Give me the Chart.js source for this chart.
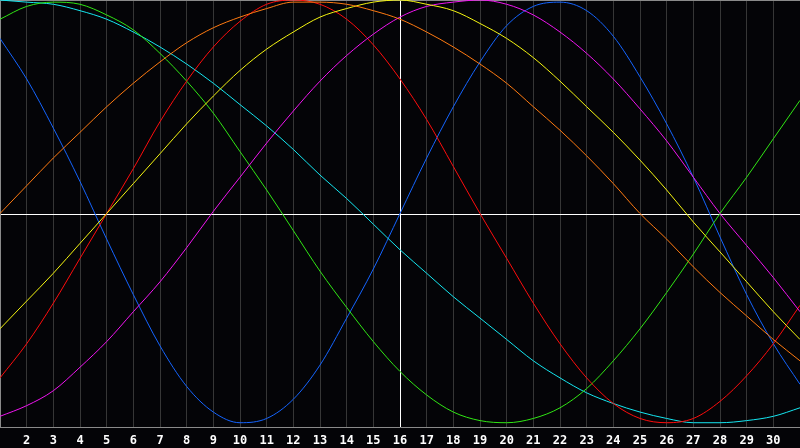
<!DOCTYPE html>
<html>
<head>
<meta charset="utf-8">
<script src="https://cdn.jsdelivr.net/npm/chart.js@4.4.1/dist/chart.umd.min.js"></script>
<style>
  html, body { margin: 0; padding: 0; background: #040407; }
  #wrap { width: 800px; height: 448px; position: relative; }
</style>
</head>
<body>
<div id="wrap"><canvas id="c" width="800" height="448"></canvas></div>
<script>
const categories = [1,2,3,4,5,6,7,8,9,10,11,12,13,14,15,16,17,18,19,20,21,22,23,24,25,26,27,28,29,30,31];

const blueValues    = [0.82,0.63,0.40,0.15,-0.12,-0.38,-0.62,-0.81,-0.93,-0.98,-0.96,-0.87,-0.71,-0.49,-0.26,0.00,0.26,0.50,0.71,0.88,0.97,0.99,0.95,0.83,0.64,0.42,0.17,-0.11,-0.38,-0.61,-0.80];
const greenValues   = [0.91,0.97,0.99,0.98,0.93,0.86,0.75,0.62,0.47,0.29,0.11,-0.08,-0.27,-0.44,-0.60,-0.74,-0.85,-0.93,-0.97,-0.98,-0.96,-0.91,-0.82,-0.69,-0.54,-0.37,-0.19,0.00,0.17,0.35,0.53];
const cyanValues    = [1.00,0.99,0.98,0.95,0.91,0.85,0.78,0.70,0.61,0.51,0.41,0.30,0.18,0.07,-0.05,-0.17,-0.28,-0.39,-0.49,-0.59,-0.69,-0.77,-0.84,-0.89,-0.93,-0.96,-0.98,-0.98,-0.97,-0.95,-0.91];
const redValues     = [-0.77,-0.61,-0.42,-0.21,0.00,0.21,0.43,0.62,0.78,0.90,0.98,1.00,0.98,0.91,0.79,0.63,0.44,0.22,0.00,-0.21,-0.42,-0.61,-0.77,-0.89,-0.96,-0.98,-0.96,-0.88,-0.76,-0.61,-0.43];
const orangeValues  = [0.00,0.13,0.26,0.38,0.50,0.61,0.71,0.80,0.87,0.92,0.96,0.99,0.99,0.98,0.95,0.91,0.85,0.78,0.70,0.61,0.50,0.39,0.27,0.14,0.00,-0.12,-0.25,-0.37,-0.48,-0.59,-0.69];
const yellowValues  = [-0.54,-0.41,-0.28,-0.14,0.00,0.14,0.28,0.42,0.55,0.67,0.77,0.85,0.92,0.96,0.99,1.00,0.98,0.95,0.89,0.82,0.73,0.62,0.50,0.38,0.25,0.11,-0.04,-0.18,-0.32,-0.46,-0.59];
const magentaValues = [-0.95,-0.90,-0.83,-0.72,-0.60,-0.46,-0.32,-0.16,0.01,0.17,0.33,0.48,0.62,0.74,0.84,0.92,0.97,0.99,1.00,0.98,0.93,0.85,0.75,0.63,0.49,0.34,0.17,0.00,-0.15,-0.30,-0.46];

const tickLabels = ['2','3','4','5','6','7','8','9','10','11','12','13','14','15','16','17','18','19','20','21','22','23','24','25','26','27','28','29','30'];

const series = [
  { values: orangeValues,  color: '#ff7a10' },
  { values: yellowValues,  color: '#f5f510' },
  { values: magentaValues, color: '#f014f0' },
  { values: redValues,     color: '#ff0c0c' },
  { values: greenValues,   color: '#30e614' },
  { values: cyanValues,    color: '#14e6f0' },
  { values: blueValues,    color: '#1464ff' }
];

const frame = {
  id: 'frame',
  beforeDraw(chart) {
    const ctx = chart.ctx;
    ctx.save();
    ctx.fillStyle = '#040407';
    ctx.fillRect(0, 0, chart.width, chart.height);
    ctx.restore();
  },
  beforeDatasetsDraw(chart) {
    const ctx = chart.ctx, a = chart.chartArea, y = chart.scales.y;
    ctx.save();
    ctx.lineWidth = 1;
    ctx.strokeStyle = '#ffffff';
    const y0 = Math.round(y.getPixelForValue(0)) + 0.5;
    ctx.beginPath(); ctx.moveTo(a.left, y0); ctx.lineTo(a.right, y0); ctx.stroke();
    ctx.strokeStyle = '#8a8a8a';
    ctx.beginPath();
    ctx.moveTo(a.left + 0.5, a.bottom); ctx.lineTo(a.left + 0.5, a.top + 0.5); ctx.lineTo(a.right, a.top + 0.5);
    ctx.stroke();
    ctx.restore();
  }
};

new Chart(document.getElementById('c'), {
  type: 'line',
  data: {
    datasets: series.map(s => ({
      data: categories.map((x, i) => ({ x: x, y: s.values[i] })),
      borderColor: s.color,
      borderWidth: 1,
      pointRadius: 0,
      pointHoverRadius: 0,
      pointHitRadius: 0,
      cubicInterpolationMode: 'monotone',
      fill: false
    }))
  },
  options: {
    responsive: false,
    animation: false,
    layout: { padding: 0, autoPadding: false },
    plugins: { legend: { display: false }, tooltip: { enabled: false } },
    scales: {
      x: {
        type: 'linear',
        min: 1, max: 31,
        afterFit(s) { s.height = 21; s.paddingLeft = 0; s.paddingRight = 0; },
        border: { display: true, color: '#8a8a8a', width: 1 },
        grid: {
          drawTicks: false,
          color: ctx => (ctx.tick && ctx.tick.value === 16) ? '#ffffff' : '#363636',
          lineWidth: 1
        },
        ticks: {
          stepSize: 1,
          autoSkip: false,
          maxRotation: 0,
          padding: 7,
          color: '#ffffff',
          font: { family: 'DejaVu Sans Mono', size: 12, weight: 'bold' },
          callback: v => tickLabels.includes(String(v)) ? String(v) : ''
        }
      },
      y: {
        display: false,
        min: -1, max: 1
      }
    }
  },
  plugins: [frame]
});
</script>
</body>
</html>
